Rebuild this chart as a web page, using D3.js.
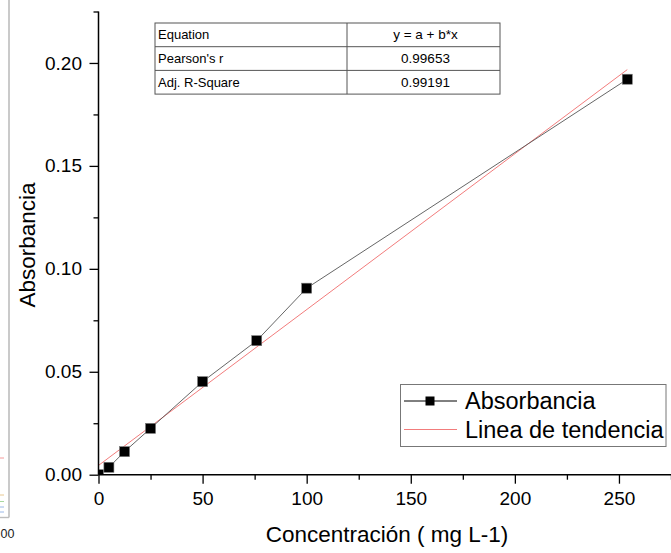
<!DOCTYPE html>
<html>
<head>
<meta charset="utf-8">
<script src="https://cdn.jsdelivr.net/npm/d3@7"></script>
<style>
  html, body { margin: 0; padding: 0; background: #fff; }
  svg { display: block; font-family: "Liberation Sans", Arial, sans-serif; }
</style>
</head>
<body>
<svg id="chart" width="671" height="553"></svg>
<script>
// Calibration data: concentration (mg L-1) vs absorbance
const concentracion = [0, 5, 12.5, 25, 50, 76, 100, 254];
const absorbancia   = [0, 0.0036, 0.0112, 0.0225, 0.0452, 0.0651, 0.0906, 0.1921];

// Linear fit y = a + b*x
const fitIntercept = 0.0045;
const fitSlope = 0.000757;
const fitRange = [0, 254];

// Fit statistics table
const tableRows = [
  ["Equation", "y = a + b*x"],
  ["Pearson's r", "0.99653"],
  ["Adj. R-Square", "0.99191"]
];

// Axis ticks
const xMajorTicks = [0, 50, 100, 150, 200, 250];
const xMinorTicks = [25, 75, 125, 175, 225, 275];
const yMajorTicks = [0, 0.05, 0.10, 0.15, 0.20];
const yMinorTicks = [0.025, 0.075, 0.125, 0.175, 0.225];

const legendItems = ["Absorbancia", "Linea de tendencia"];

const svg = d3.select("#chart");

const plot = { left: 98.5, right: 671, top: 11.5, bottom: 474.7 };

const x = d3.scaleLinear().domain([0, 275]).range([plot.left, plot.right]);
const y = d3.scaleLinear().domain([0, 0.225]).range([plot.bottom, plot.top]);

// Edge of the neighbouring panel on the left
const side = svg.append("g");
side.append("line").attr("x1", 9).attr("x2", 9).attr("y1", 0).attr("y2", 517.5)
  .attr("stroke", "#bdbdbd").attr("stroke-width", 1.6);
side.append("line").attr("x1", 0).attr("x2", 9).attr("y1", 517.5).attr("y2", 517.5)
  .attr("stroke", "#bdbdbd").attr("stroke-width", 1.4);
[[458, "#f49a9a"], [495, "#e8c890"], [501.5, "#a8d8a0"], [507, "#9ab8e8"], [512, "#9ab8e8"]]
  .forEach(([yy, c]) => side.append("line").attr("x1", 0).attr("x2", 4)
    .attr("y1", yy).attr("y2", yy).attr("stroke", c).attr("stroke-width", 1));
side.append("text").attr("x", 0.5).attr("y", 538).attr("text-anchor", "start")
  .attr("font-size", 12.5).attr("fill", "#222").text("00");

// Clip for the plotting region
svg.append("defs").append("clipPath").attr("id", "plotClip")
  .append("rect").attr("x", plot.left).attr("y", plot.top)
  .attr("width", plot.right - plot.left).attr("height", plot.bottom - plot.top);

const marks = svg.append("g").attr("clip-path", "url(#plotClip)");

// Trend line
marks.append("line")
  .attr("x1", x(fitRange[0])).attr("y1", y(fitIntercept + fitSlope * fitRange[0]))
  .attr("x2", x(fitRange[1])).attr("y2", y(fitIntercept + fitSlope * fitRange[1]))
  .attr("stroke", "#f27c7c").attr("stroke-width", 1);

const pts = concentracion.map((c, i) => [c, absorbancia[i]]);

// Connecting line through measurements
marks.append("path")
  .datum(pts)
  .attr("d", d3.line().x(d => x(d[0])).y(d => y(d[1])))
  .attr("fill", "none").attr("stroke", "#555").attr("stroke-width", 0.9);

// Square markers
const ms = 10;
marks.selectAll("rect.pt").data(pts).join("rect")
  .attr("class", "pt")
  .attr("x", d => x(d[0]) - ms / 2).attr("y", d => y(d[1]) - ms / 2)
  .attr("width", ms).attr("height", ms)
  .attr("fill", "#000").attr("stroke", "#777").attr("stroke-width", 0.6);

// Axes
const fontTick = 19;
const gx = svg.append("g").attr("transform", `translate(0,${plot.bottom})`);
gx.call(d3.axisBottom(x).tickValues(xMajorTicks).tickSize(9).tickPadding(8).tickFormat(d3.format("d")));
const gxm = svg.append("g").attr("transform", `translate(0,${plot.bottom})`);
gxm.call(d3.axisBottom(x).tickValues(xMinorTicks).tickSize(5).tickFormat(""));

const gy = svg.append("g").attr("transform", `translate(${plot.left},0)`);
gy.call(d3.axisLeft(y).tickValues(yMajorTicks).tickSize(9).tickPadding(7.5).tickFormat(d3.format(".2f")));
const gym = svg.append("g").attr("transform", `translate(${plot.left},0)`);
gym.call(d3.axisLeft(y).tickValues(yMinorTicks).tickSize(5).tickFormat(""));

[gx, gxm, gy, gym].forEach(g => {
  g.select(".domain").remove();
  g.selectAll(".tick line").attr("stroke", "#000").attr("stroke-width", 1.3);
  g.selectAll(".tick text").attr("font-size", fontTick).attr("fill", "#000")
    .attr("font-family", "Liberation Sans, Arial, sans-serif");
});

svg.append("line").attr("x1", plot.left).attr("x2", plot.right)
  .attr("y1", plot.bottom).attr("y2", plot.bottom).attr("stroke", "#000").attr("stroke-width", 1.5);
svg.append("line").attr("x1", plot.left).attr("x2", plot.left)
  .attr("y1", plot.top).attr("y2", plot.bottom).attr("stroke", "#000").attr("stroke-width", 1.5);

// Axis titles
svg.append("text").attr("x", 387).attr("y", 542).attr("text-anchor", "middle")
  .attr("font-size", 22.5).attr("fill", "#000").text("Concentración ( mg L-1)");
svg.append("text").attr("transform", "translate(35,245) rotate(-90)").attr("text-anchor", "middle")
  .attr("font-size", 22.5).attr("fill", "#000").text("Absorbancia");

// Statistics table
const tb = { left: 155, right: 500, top: 23, rowH: 23.7, split: 347 };
const tg = svg.append("g");
tg.append("rect").attr("x", tb.left).attr("y", tb.top)
  .attr("width", tb.right - tb.left).attr("height", tb.rowH * tableRows.length)
  .attr("fill", "#fff").attr("stroke", "#555").attr("stroke-width", 1);
tg.append("line").attr("x1", tb.split).attr("x2", tb.split)
  .attr("y1", tb.top).attr("y2", tb.top + tb.rowH * tableRows.length)
  .attr("stroke", "#555").attr("stroke-width", 1);
tableRows.forEach((r, i) => {
  if (i > 0) tg.append("line").attr("x1", tb.left).attr("x2", tb.right)
    .attr("y1", tb.top + tb.rowH * i).attr("y2", tb.top + tb.rowH * i)
    .attr("stroke", "#555").attr("stroke-width", 1);
  const cy = tb.top + tb.rowH * i + tb.rowH / 2 + 4.5;
  tg.append("text").attr("x", tb.left + 3).attr("y", cy).attr("font-size", 13).attr("fill", "#000").text(r[0]);
  tg.append("text").attr("x", (tb.split + tb.right) / 2 + 2).attr("y", cy).attr("text-anchor", "middle")
    .attr("font-size", 13.5).attr("fill", "#000").text(r[1]);
});

// Legend
const lg = svg.append("g");
lg.append("rect").attr("x", 400.5).attr("y", 384.5).attr("width", 265.5).attr("height", 62)
  .attr("fill", "#fff").attr("stroke", "#777").attr("stroke-width", 1);
const rowY = [401, 429.5];
lg.append("line").attr("x1", 404).attr("x2", 457).attr("y1", rowY[0]).attr("y2", rowY[0])
  .attr("stroke", "#000").attr("stroke-width", 1);
lg.append("rect").attr("x", 430 - 4.5).attr("y", rowY[0] - 4.5).attr("width", 9).attr("height", 9).attr("fill", "#000");
lg.append("line").attr("x1", 404).attr("x2", 457).attr("y1", rowY[1]).attr("y2", rowY[1])
  .attr("stroke", "#f27c7c").attr("stroke-width", 1);
legendItems.forEach((t, i) => {
  lg.append("text").attr("x", 465).attr("y", rowY[i] + 8).attr("font-size", 23.5)
    .attr("fill", "#000").text(t);
});
</script>
</body>
</html>
